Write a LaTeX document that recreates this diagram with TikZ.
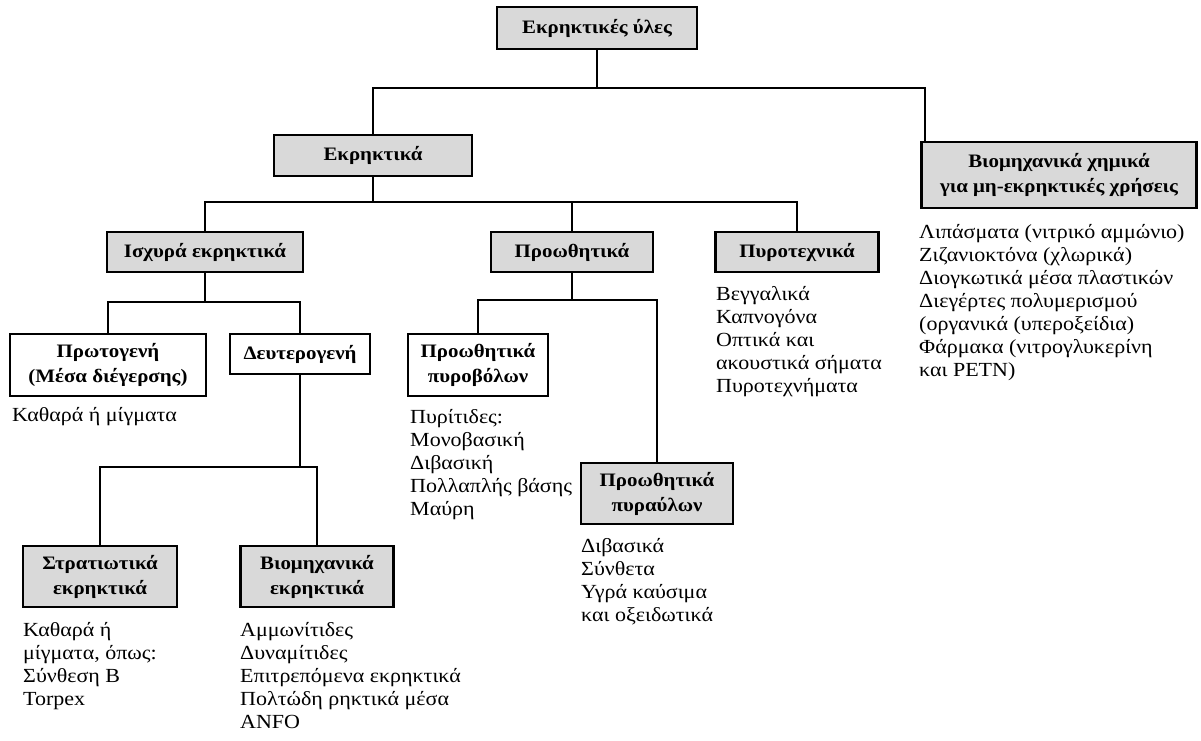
\documentclass[tikz,border=0pt]{standalone}
\usepackage{fontspec}
\setmainfont{Liberation Serif}[FakeStretch=1.1]
\begin{document}
\begin{tikzpicture}[x=1pt,y=-1pt,
  box/.style={draw=black,line width=2.2pt,fill=#1,minimum height=40pt,inner sep=2pt,align=center,font=\fontsize{19}{25}\selectfont\bfseries},
  box/.default=gray!30,
  wbox/.style={box=white},
  lst/.style={anchor=north west,inner sep=0pt,align=left,font=\fontsize{20}{23}\selectfont},
  conn/.style={line width=2pt,line join=miter}]
\useasboundingbox (0,0) rectangle (1201,740);
\fill[white] (0,0) rectangle (1201,740);

% boxes
\node[box, minimum width=200pt, minimum height=42pt] (top) at (597,28) {Εκρηκτικές ύλες};
\node[box, minimum width=198pt, minimum height=41pt] (expl) at (373,155.5) {Εκρηκτικά};
\node[box, minimum width=275pt, minimum height=66pt] (ind) at (1059,175) {Βιομηχανικά χημικά\\για μη-εκρηκτικές χρήσεις};
\node[box, minimum width=196pt] (high) at (205,252) {Ισχυρά εκρηκτικά};
\node[box, minimum width=162pt] (prop) at (572,252) {Προωθητικά};
\node[box, minimum width=163pt] (pyro) at (797,252) {Πυροτεχνικά};
\node[wbox, minimum width=196pt, minimum height=62pt] (prim) at (108,365) {Πρωτογενή\\(Μέσα διέγερσης)};
\node[wbox, minimum width=140pt] (sec) at (300,354) {Δευτερογενή};
\node[wbox, minimum width=140pt, minimum height=62pt] (gun) at (478,365) {Προωθητικά\\πυροβόλων};
\node[box, minimum width=152pt, minimum height=61pt] (rocket) at (657,493.5) {Προωθητικά\\πυραύλων};
\node[box, minimum width=154pt, minimum height=61pt] (mil) at (100,576.5) {Στρατιωτικά\\εκρηκτικά};
\node[box, minimum width=153pt, minimum height=61pt] (indexp) at (317,576.5) {Βιομηχανικά\\εκρηκτικά};

% junctions
\coordinate (hub1) at (597,88);
\coordinate (hub2) at (373,202);
\coordinate (hub3) at (205,302);
\coordinate (hub4) at (572,300);
\coordinate (hub5) at (300,467);
\coordinate (indtop) at ([xshift=4.5pt]ind.north west);

% connectors
\draw[conn] (top.south) -- (hub1);
\draw[conn] (expl.north) |- (hub1) -| (indtop);
\draw[conn] (expl.south) -- (hub2);
\draw[conn] (high.north) |- (hub2) -| (pyro.north);
\draw[conn] (prop.north) -- (prop.north |- hub2);
\draw[conn] (high.south) -- (hub3);
\draw[conn] (prim.north) |- (hub3) -| (sec.north);
\draw[conn] (prop.south) -- (hub4);
\draw[conn] (gun.north) |- (hub4) -| (rocket.north);
\draw[conn] (sec.south) -- (hub5);
\draw[conn] (mil.north) |- (hub5) -| (indexp.north);

% lists
\node[lst] (lprim) at (12,405) {\strut Καθαρά ή μίγματα};
\node[lst] (lmil) at (23,620) {\strut Καθαρά ή\\μίγματα, όπως:\\Σύνθεση B\\Torpex};
\node[lst] (lindexp) at (240,620) {\strut Αμμωνίτιδες\\Δυναμίτιδες\\Επιτρεπόμενα εκρηκτικά\\Πολτώδη ρηκτικά μέσα\\ANFO};
\node[lst] (lgun) at (410,407) {\strut Πυρίτιδες:\\Μονοβασική\\Διβασική\\Πολλαπλής βάσης\\Μαύρη};
\node[lst] (lrocket) at (581,536) {\strut Διβασικά\\Σύνθετα\\Υγρά καύσιμα\\και οξειδωτικά};
\node[lst] (lpyro) at (716,284) {\strut Βεγγαλικά\\Καπνογόνα\\Οπτικά και\\ακουστικά σήματα\\Πυροτεχνήματα};
\node[lst] (lind) at (919,222) {\strut Λιπάσματα (νιτρικό αμμώνιο)\\Ζιζανιοκτόνα (χλωρικά)\\Διογκωτικά μέσα πλαστικών\\Διεγέρτες πολυμερισμού\\(οργανικά (υπεροξείδια)\\Φάρμακα (νιτρογλυκερίνη\\και PETN)};
\end{tikzpicture}
\end{document}
